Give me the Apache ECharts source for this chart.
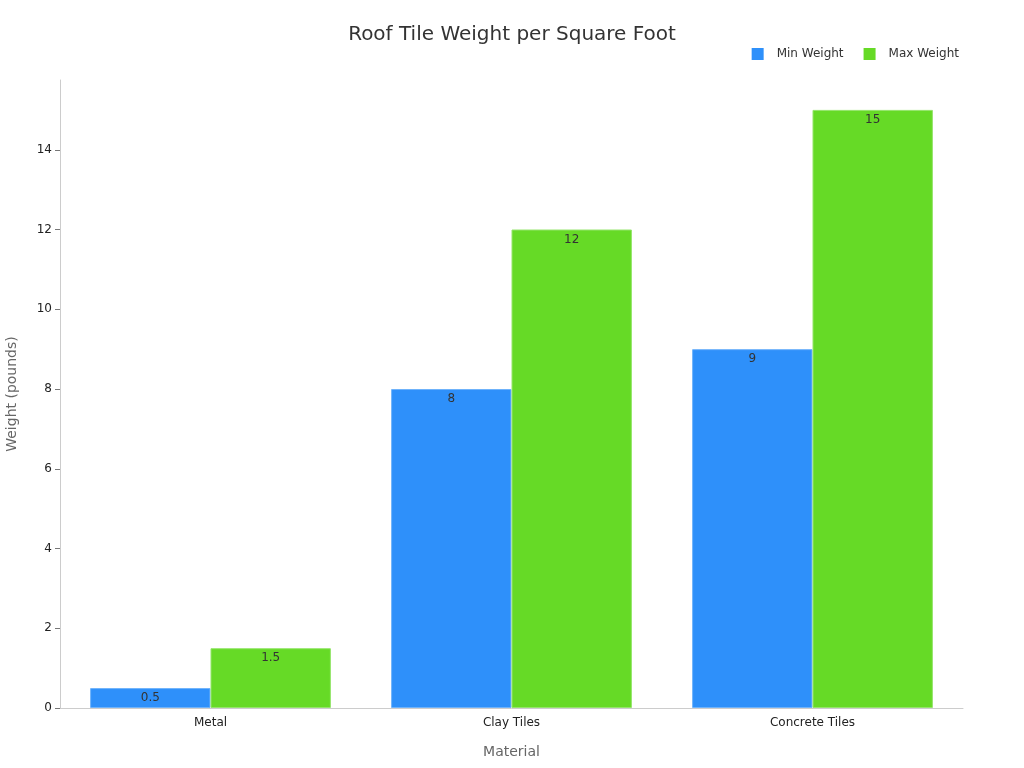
<!DOCTYPE html>
<html>
<head>
<meta charset="utf-8">
<script src="https://cdn.jsdelivr.net/npm/echarts@6/dist/echarts.min.js"></script>
<style>html,body{margin:0;padding:0;background:#fff;}#chart{width:1024px;height:768px;}</style>
</head>
<body>
<div id="chart"></div>
<script>
const categories = ['Metal', 'Clay Tiles', 'Concrete Tiles'];
const minWeight = [0.5, 8, 9];
const maxWeight = [1.5, 12, 15];
const yTicks = [0, 2, 4, 6, 8, 10, 12, 14];

const chart = echarts.init(document.getElementById('chart'));
const font = 'DejaVu Sans';
chart.setOption({
  backgroundColor: '#fff',
  textStyle: { fontFamily: font },
  title: {
    text: 'Roof Tile Weight per Square Foot',
    left: 'center', top: 20,
    textStyle: { fontFamily: font, fontSize: 20, fontWeight: 'normal', color: '#333' }
  },
  legend: {
    top: 43, right: 60,
    icon: 'rect',
    itemWidth: 12, itemHeight: 12, itemGap: 20,
    itemStyle: { borderWidth: 0 },
    textStyle: { fontFamily: font, fontSize: 12, color: '#333', padding: [0, 0, 0, 8] },
    data: ['Min Weight', 'Max Weight']
  },
  grid: { left: 60, right: 61, top: 80, bottom: 60, containLabel: false, outerBoundsMode: 'none' },
  xAxis: {
    type: 'category',
    data: categories,
    name: 'Material', nameLocation: 'middle', nameGap: 37,
    nameTextStyle: { fontFamily: font, fontSize: 14, color: '#666' },
    axisLine: { lineStyle: { color: '#ccc' } },
    axisTick: { alignWithLabel: true, length: 5, lineStyle: { color: '#777' } },
    axisLabel: { fontFamily: font, fontSize: 12, color: '#222', margin: 9 }
  },
  yAxis: {
    type: 'value',
    min: 0, max: 15.75, interval: 2,
    name: 'Weight (pounds)', nameLocation: 'middle', nameGap: 41,
    nameTextStyle: { fontFamily: font, fontSize: 14, color: '#666' },
    axisLine: { show: true, lineStyle: { color: '#ccc' } },
    axisTick: { show: true, length: 5, customValues: yTicks, lineStyle: { color: '#777' } },
    axisLabel: { fontFamily: font, fontSize: 12, color: '#222', margin: 8, customValues: yTicks },
    splitLine: { show: false }
  },
  series: [
    {
      name: 'Min Weight', type: 'bar', data: minWeight,
      barGap: '0%', barCategoryGap: '20%',
      itemStyle: { color: '#2E90FA', borderColor: '#6FB3FB', borderWidth: 1 },
      label: { show: true, position: 'insideTop', distance: 4, fontFamily: font, fontSize: 12, color: '#333' }
    },
    {
      name: 'Max Weight', type: 'bar', data: maxWeight,
      itemStyle: { color: '#66DA26', borderColor: '#94E56B', borderWidth: 1 },
      label: { show: true, position: 'insideTop', distance: 4, fontFamily: font, fontSize: 12, color: '#333' }
    }
  ]
});
</script>
</body>
</html>
